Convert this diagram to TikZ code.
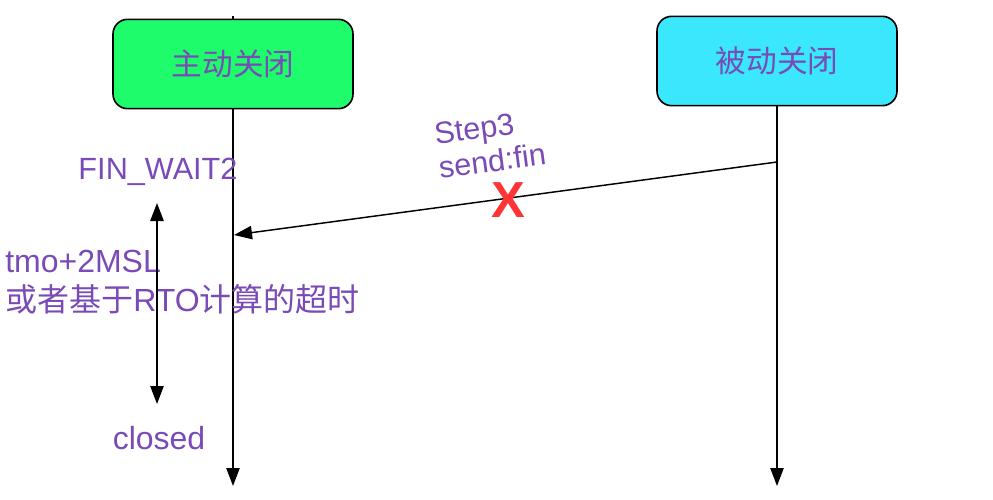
\documentclass[tikz,border=0pt]{standalone}
\usepackage{fontspec}
\setmainfont{Liberation Sans}
\newfontfamily\cjk{Noto Sans CJK SC}
\usetikzlibrary{arrows.meta}
\definecolor{txtpurple}{HTML}{7A4BB7}
\definecolor{boxgreen}{HTML}{1EFB6B}
\definecolor{boxcyan}{HTML}{3AE7FD}
\definecolor{xred}{HTML}{FF3535}
\tikzset{
  actor/.style={draw=black, line width=1.2pt, rounded corners=11pt, minimum width=180pt, minimum height=67pt, inner sep=0pt, text=txtpurple, font=\cjk\fontsize{23}{27}\selectfont},
  lbl/.style={text=txtpurple, font=\fontsize{23}{26}\selectfont, inner sep=0pt},
  biglbl/.style={text=txtpurple, font=\fontsize{24}{27}\selectfont, inner sep=0pt},
  conn/.style={draw=black, line width=1.1pt, -{Triangle[length=13.5pt,width=10pt]}},
  dconn/.style={draw=black, line width=1.1pt, {Triangle[length=13.5pt,width=10pt]}-{Triangle[length=13.5pt,width=10pt]}}
}
\begin{document}
\begin{tikzpicture}[x=0.75pt,y=-0.75pt]
\useasboundingbox (0,0) rectangle (993,500);
% lifelines
\coordinate (ltop) at (233,16);
\coordinate (lend) at (233,486);
\coordinate (rend) at (777,486);
\draw[conn] (ltop) -- (lend);
\node[actor, fill=boxgreen] (active) at (233,64) {主动关闭};
\node[actor, fill=boxcyan] (passive) at (777,61) {被动关闭};
\draw[conn] (passive.south) -- (rend);
% message
\coordinate (msgstart) at (777,162);
\coordinate (msgend) at (234,235);
\draw[conn] (msgstart) -- (msgend);
\node[lbl, align=left, rotate=7.6] (step) at (490,144) {Step3\\send:fin};
\node[text=xred, inner sep=0pt, font=\bfseries\fontsize{38}{40}\selectfont] (cross) at (508,200) {X};
% left labels
\node[lbl] (finwait) at (158,172) {FIN\_WAIT2};
\node[biglbl, anchor=west] (tmo) at (5,261) {tmo+2MSL};
\node[biglbl, anchor=west] (rto) at (5,299) {{\cjk 或者基于}RTO{\cjk 计算的超时}};
\node[biglbl] (closed) at (159,438) {closed};
\coordinate (dtop) at (157,203);
\coordinate (dbot) at (157,404);
\draw[dconn] (dtop) -- (dbot);
\end{tikzpicture}
\end{document}
